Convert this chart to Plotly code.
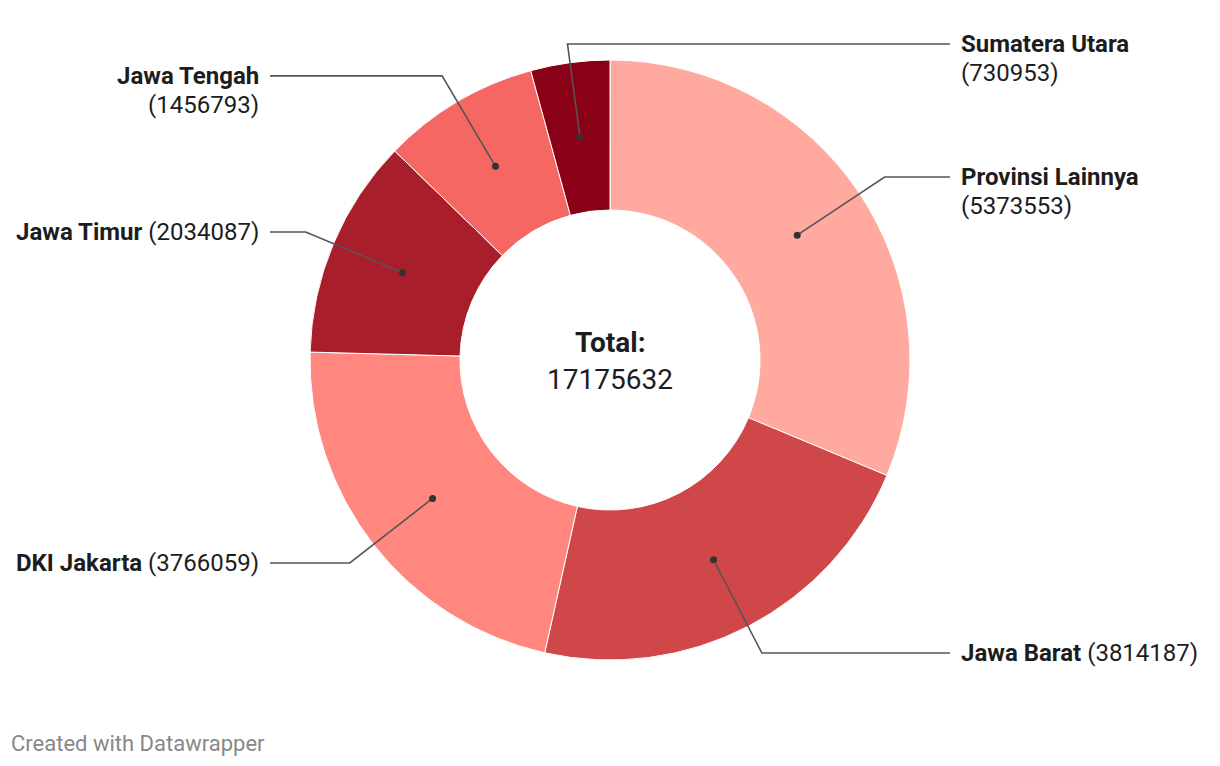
import math
import plotly.graph_objects as go

# data
provinces = ['Provinsi Lainnya', 'Jawa Barat', 'DKI Jakarta', 'Jawa Timur', 'Jawa Tengah', 'Sumatera Utara']
counts = [5373553, 3814187, 3766059, 2034087, 1456793, 730953]
colors = ['#ffa99f', '#d0474a', '#ff877f', '#a91e2b', '#f56762', '#8a0017']

total = sum(counts)

# canvas / pie geometry (window pixels; page body has an 8px margin)
OFF = 8
W, H = 1204, 750
cx, cy = 610, 360
r_out, r_in = 300, 150
r_dot = (r_out + r_in) / 2
r_elbow = 330
two_line = {'Provinsi Lainnya', 'Jawa Tengah', 'Sumatera Utara'}
right_side = {'Provinsi Lainnya', 'Jawa Barat', 'Sumatera Utara'}

fig = go.Figure()

fig.add_trace(go.Pie(
    labels=provinces, values=counts, sort=False, direction='clockwise', rotation=0,
    hole=r_in / r_out, textinfo='none', hoverinfo='label+value',
    marker=dict(colors=colors, line=dict(color='white', width=1)),
    domain=dict(x=[(cx - r_out - OFF) / W, (cx + r_out - OFF) / W],
                y=[1 - (cy + r_out - OFF) / H, 1 - (cy - r_out - OFF) / H]),
    showlegend=False,
))

annotations = []
shapes = []
cum = 0
for name, val in zip(provinces, counts):
    mid = (cum + val / 2) / total * 2 * math.pi
    cum += val
    s, c = math.sin(mid), math.cos(mid)
    dx, dy = cx + r_dot * s, cy - r_dot * c
    ex, ey = cx + r_elbow * s, cy - r_elbow * c
    if ey < 44:
        ey = 44
        ex = cx + (cy - ey) * s / c
    right = name in right_side
    endx = 950 if right else 270
    # leader line + dot (shapes so they sit above the pie)
    shapes.append(dict(type='path', xref='x', yref='y', layer='above',
                       path=f'M {dx:.1f},{dy:.1f} L {ex:.1f},{ey:.1f} L {endx},{ey:.1f}',
                       line=dict(color='#555555', width=1.6)))
    shapes.append(dict(type='circle', xref='x', yref='y', layer='above',
                       x0=dx - 3.5, x1=dx + 3.5, y0=dy - 3.5, y1=dy + 3.5,
                       fillcolor='#333333', line=dict(width=0)))
    tx = 959 if right else 261
    anchor = 'left' if right else 'right'
    if name in two_line:
        annotations.append(dict(x=tx, y=ey, text=f'<b>{name}</b>', xanchor=anchor, yanchor='middle',
                                showarrow=False, xref='x', yref='y'))
        annotations.append(dict(x=tx, y=ey + 29, text=f'({val})', xanchor=anchor, yanchor='middle',
                                showarrow=False, xref='x', yref='y'))
    else:
        annotations.append(dict(x=tx, y=ey, text=f'<b>{name}</b> ({val})', xanchor=anchor, yanchor='middle',
                                showarrow=False, xref='x', yref='y'))

annotations.append(dict(x=cx, y=cy - 18, text='<b>Total:</b>', showarrow=False, xref='x', yref='y',
                        font=dict(size=28)))
annotations.append(dict(x=cx, y=cy + 19, text=str(total), showarrow=False, xref='x', yref='y',
                        font=dict(size=28)))
annotations.append(dict(x=9, y=743, text='Created with Datawrapper', xanchor='left', showarrow=False,
                        xref='x', yref='y', font=dict(size=22, color='#888888')))

fig.update_layout(
    width=W, height=H,
    margin=dict(l=0, r=0, t=0, b=0),
    paper_bgcolor='white', plot_bgcolor='rgba(0,0,0,0)',
    font=dict(family='Roboto', size=24, color='#1d1d1d'),
    xaxis=dict(range=[OFF, OFF + W], visible=False, fixedrange=True),
    yaxis=dict(range=[OFF + H, OFF], visible=False, fixedrange=True),
    annotations=annotations,
    shapes=shapes,
)

fig.write_html("out.html")
